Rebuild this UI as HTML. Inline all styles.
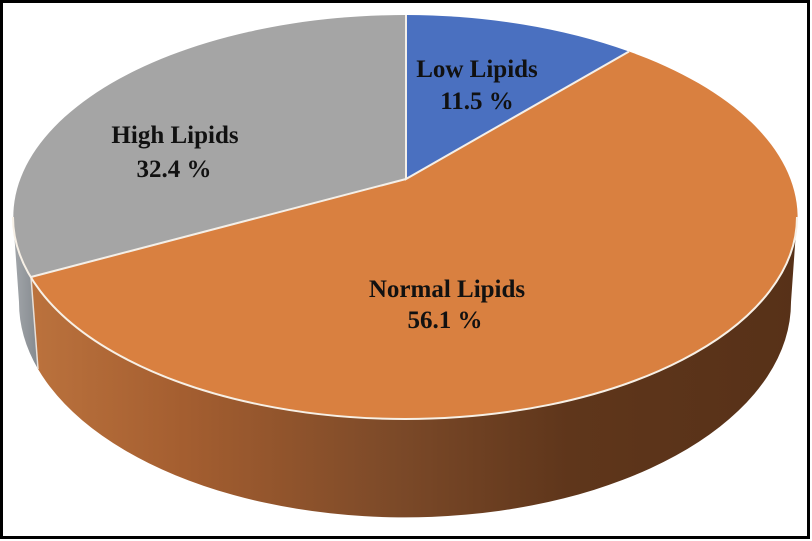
<!DOCTYPE html>
<html>
<head>
<meta charset="utf-8">
<style>
  html,body{margin:0;padding:0;background:#fff;}
  svg{display:block;}
  text{font-family:"Liberation Serif","Times New Roman",serif;font-weight:bold;font-size:25px;fill:#111;}
</style>
</head>
<body>
<svg width="812" height="541" viewBox="0 0 812 541" xmlns="http://www.w3.org/2000/svg">
  <defs>
    <linearGradient id="os" gradientUnits="userSpaceOnUse" x1="31" y1="0" x2="797" y2="0">
      <stop offset="0" stop-color="#bb723d"/>
      <stop offset="0.2" stop-color="#a45e30"/>
      <stop offset="0.48" stop-color="#7b4928"/>
      <stop offset="0.7" stop-color="#5f361b"/>
      <stop offset="1" stop-color="#573118"/>
    </linearGradient>
    <linearGradient id="gs" gradientUnits="userSpaceOnUse" x1="13" y1="0" x2="38" y2="0">
      <stop offset="0" stop-color="#a3a7ab"/>
      <stop offset="1" stop-color="#858a8f"/>
    </linearGradient>
  </defs>
  <rect x="0" y="0" width="812" height="541" fill="#fff"/>

  <!-- sides -->
  <path d="M13,217 A392,202 0 0,0 31,277 L38,369 A386,215 0 0,1 19,302 Z" fill="url(#gs)"/>
  <path d="M31,277 A392,202 0 0,0 797,217 L791,302 A386,215 0 0,1 38,369 Z" fill="url(#os)"/>
  <line x1="31" y1="277" x2="38" y2="369" stroke="#e8e0d8" stroke-width="1.5"/>

  <!-- top slices -->
  <path d="M406,179 L406,15 A392,202 0 0,0 31,277 Z" fill="#a5a5a5"/>
  <path d="M406,179 L406,15 A392,202 0 0,1 629,51.5 Z" fill="#4a70c0"/>
  <path d="M406,179 L629,51.5 A392,202 0 1,1 31,277 Z" fill="#d98040"/>

  <!-- separators -->
  <path d="M406,15 L406,179 L629,51.5 M406,179 L31,277" fill="none" stroke="#f4efe8" stroke-width="2"/>
  <path d="M13,217 A392,202 0 0,0 797,217" fill="none" stroke="#f7f0e6" stroke-width="2"/>

  <!-- labels -->
  <text x="477" y="77" text-anchor="middle">Low Lipids</text>
  <text x="477" y="109" text-anchor="middle">11.5 %</text>
  <text x="175" y="143" text-anchor="middle">High Lipids</text>
  <text x="174" y="177" text-anchor="middle">32.4 %</text>
  <text x="447" y="297" text-anchor="middle">Normal Lipids</text>
  <text x="445" y="328" text-anchor="middle">56.1 %</text>

  <!-- border -->
  <rect x="1.5" y="1.5" width="807" height="536" fill="none" stroke="#000" stroke-width="3"/>
</svg>
</body>
</html>
